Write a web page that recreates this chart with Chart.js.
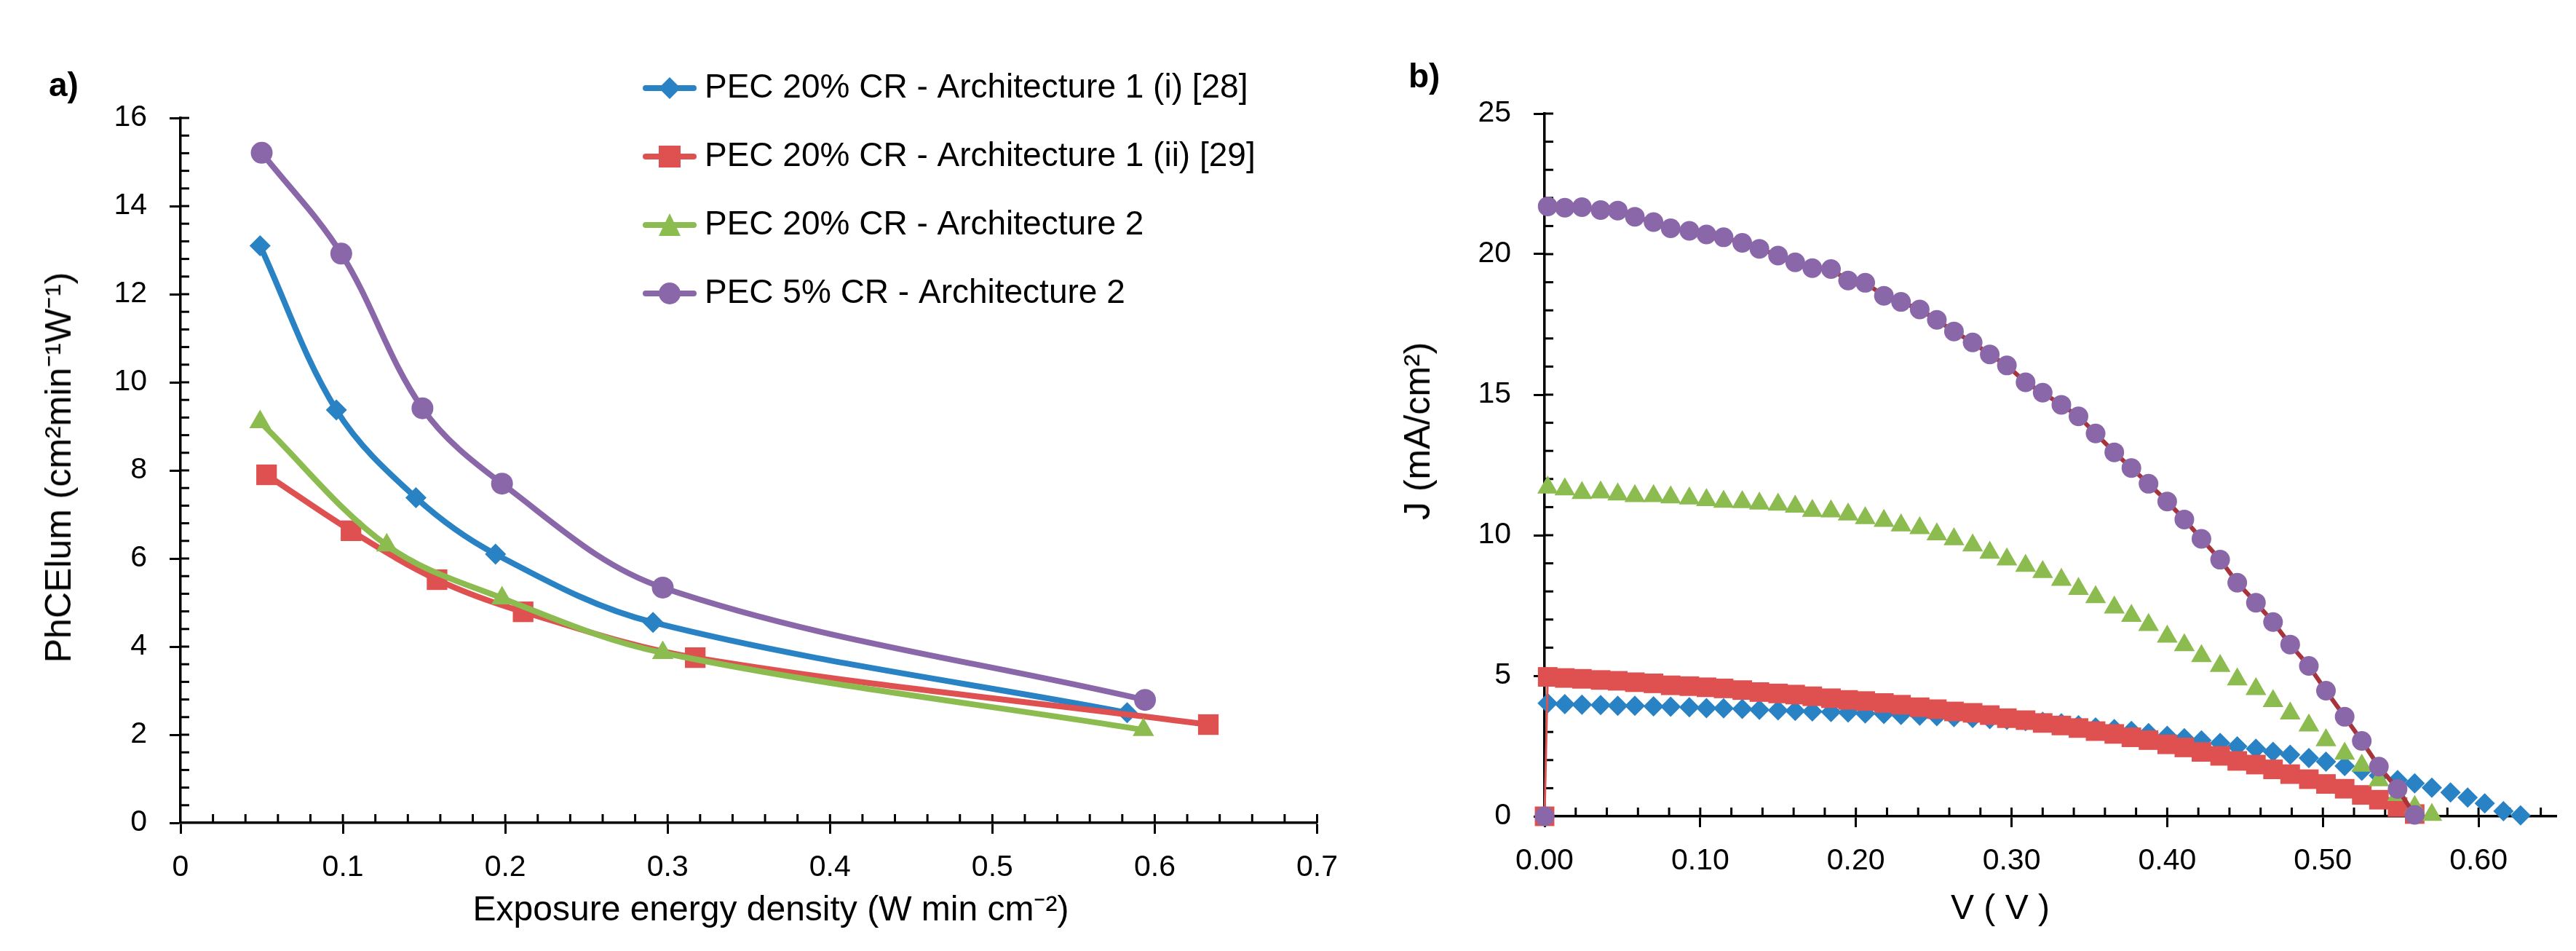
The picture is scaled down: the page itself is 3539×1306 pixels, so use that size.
<!DOCTYPE html>
<html>
<head>
<meta charset="utf-8">
<script src="https://cdn.jsdelivr.net/npm/chart.js@4.4.1/dist/chart.umd.min.js"></script>
<style>
  html, body { margin: 0; padding: 0; background: #fff; }
  body { width: 3539px; height: 1306px; position: relative; overflow: hidden;
         font-family: 'Liberation Sans', Arial, sans-serif; color: #000; }
  canvas { position: absolute; top: 0; }
  #chartA { left: 0; width: 1860px; height: 1306px; }
  #chartB { left: 1860px; width: 1679px; height: 1306px; }
  .lbl { position: absolute; white-space: nowrap; line-height: 1; }
  .panel { font-weight: bold; font-size: 46px; }
  .ttl { transform: translate(-50%, -50%); }
  .ttl.v { transform: translate(-50%, -50%) rotate(-90deg); }
</style>
</head>
<body>
<canvas id="chartA" width="1860" height="1306"></canvas>
<canvas id="chartB" width="1679" height="1306"></canvas>
<div class="lbl panel" style="left:67px; top:93px">a)</div>
<div class="lbl panel" style="left:1935px; top:81px">b)</div>
<div class="lbl ttl" style="left:1059px; top:1248px; font-size:48px">Exposure energy density (W min cm⁻²)</div>
<div class="lbl ttl v" style="left:80px; top:642px; font-size:50px">PhCElum (cm²min⁻¹W⁻¹)</div>
<div class="lbl ttl" style="left:2748px; top:1246px; font-size:48px">V ( V )</div>
<div class="lbl ttl v" style="left:1947px; top:592px; font-size:50px">J (mA/cm²)</div>
<script>
// ---- a) PhCElum vs exposure energy density ----
const seriesNames = [
  'PEC 20% CR - Architecture 1 (i) [28]',
  'PEC 20% CR - Architecture 1 (ii) [29]',
  'PEC 20% CR - Architecture 2',
  'PEC 5% CR - Architecture 2'
];
const energyArch1i  = [0.049, 0.096, 0.145, 0.194, 0.291, 0.583];
const phcArch1i     = [13.1, 9.37, 7.38, 6.1, 4.55, 2.5];
const energyArch1ii = [0.053, 0.105, 0.158, 0.211, 0.317, 0.633];
const phcArch1ii    = [7.9, 6.63, 5.52, 4.79, 3.75, 2.23];
const energyArch2   = [0.049, 0.127, 0.198, 0.297, 0.593];
const phcArch2      = [9.1, 6.3, 5.1, 3.86, 2.11];
const energyCr5     = [0.050, 0.099, 0.149, 0.198, 0.297, 0.594];
const phcCr5        = [15.21, 12.92, 9.41, 7.7, 5.34, 2.79];

// ---- b) J-V curves ----
const voltage = [
  0.002, 0.013, 0.024, 0.036, 0.047, 0.058, 0.070, 0.081, 0.093, 0.104,
  0.115, 0.127, 0.138, 0.150, 0.161, 0.172, 0.184, 0.195, 0.206, 0.218,
  0.229, 0.241, 0.252, 0.263, 0.275, 0.286, 0.297, 0.309, 0.320, 0.332,
  0.343, 0.354, 0.366, 0.377, 0.388, 0.400, 0.411, 0.422, 0.434, 0.445,
  0.457, 0.468, 0.479, 0.491, 0.502, 0.514, 0.525, 0.536, 0.548, 0.559,
  0.570, 0.582, 0.593, 0.604, 0.616, 0.627
];
const jArch1i = [
  4.02, 3.99, 3.97, 3.96, 3.93, 3.93, 3.91, 3.90, 3.88, 3.85,
  3.84, 3.82, 3.79, 3.77, 3.75, 3.73, 3.71, 3.69, 3.66, 3.64,
  3.61, 3.58, 3.56, 3.53, 3.50, 3.46, 3.43, 3.39, 3.36, 3.31,
  3.24, 3.16, 3.10, 3.04, 2.96, 2.86, 2.78, 2.70, 2.61, 2.49,
  2.40, 2.29, 2.19, 2.07, 1.94, 1.79, 1.62, 1.45, 1.29, 1.17,
  1.02, 0.85, 0.67, 0.46, 0.18, 0.03
];
const jArch1ii = [
  4.96, 4.92, 4.89, 4.85, 4.82, 4.77, 4.73, 4.66, 4.63, 4.59,
  4.55, 4.49, 4.42, 4.37, 4.33, 4.27, 4.20, 4.14, 4.10, 4.03,
  3.97, 3.88, 3.81, 3.73, 3.68, 3.60, 3.49, 3.42, 3.32, 3.23,
  3.14, 3.03, 2.93, 2.81, 2.71, 2.56, 2.45, 2.29, 2.15, 1.97,
  1.84, 1.67, 1.50, 1.32, 1.15, 0.98, 0.76, 0.59, 0.33, 0.08
];
const jArch2 = [
  11.70, 11.63, 11.50, 11.52, 11.45, 11.39, 11.39, 11.35, 11.31, 11.25,
  11.19, 11.18, 11.13, 11.09, 11.02, 10.87, 10.85, 10.74, 10.61, 10.51,
  10.35, 10.25, 10.03, 9.86, 9.64, 9.38, 9.14, 8.91, 8.69, 8.41,
  8.09, 7.80, 7.43, 7.13, 6.81, 6.39, 6.09, 5.70, 5.35, 4.87,
  4.53, 4.10, 3.66, 3.23, 2.71, 2.23, 1.80, 1.28, 0.76, 0.33,
  0.05
];
const jCr5 = [
  21.70, 21.65, 21.67, 21.57, 21.55, 21.33, 21.14, 20.92, 20.83, 20.70,
  20.60, 20.40, 20.19, 19.95, 19.71, 19.50, 19.47, 19.06, 18.98, 18.52,
  18.30, 18.03, 17.66, 17.25, 16.86, 16.43, 16.04, 15.44, 15.07, 14.64,
  14.23, 13.62, 12.95, 12.39, 11.83, 11.20, 10.56, 9.87, 9.13, 8.31,
  7.60, 6.91, 6.11, 5.35, 4.47, 3.54, 2.68, 1.77, 0.97, 0.05
];

const BLUE = '#2882C4', RED = '#DE5150', GREEN = '#8CBB4F', PURPLE = '#8A67A9', DARKRED = '#A8333A';
const FONT = "'Liberation Sans', Arial, sans-serif";
Chart.defaults.font.family = FONT;
Chart.defaults.color = '#000';

const pts = (xs, ys) => ys.map((y, i) => ({x: xs[i], y: y}));
const withOrigin = (xs, ys) => [{x: 0, y: 0}].concat(pts(xs, ys));
const isMajor = (v, major) => Math.abs(v / major - Math.round(v / major)) < 1e-6;

function axis(min, max, step, major, fmt, pad, fit) {
  return {
    type: 'linear', min: min, max: max,
    ticks: {
      stepSize: step, autoSkip: false, includeBounds: false, maxRotation: 0,
      font: {size: 41}, padding: pad,
      callback: v => isMajor(v, major) ? fmt(v) : ''
    },
    grid: {
      drawOnChartArea: false, drawTicks: true, tickLength: 15, tickWidth: 3,
      tickColor: c => (c.tick && isMajor(c.tick.value, major)) ? '#000' : 'rgba(0,0,0,0)'
    },
    border: {display: true, color: '#000', width: 3.5},
    afterFit: fit
  };
}

// short ticks on the inner side of both axes
const innerTicks = {
  id: 'innerTicks',
  beforeDatasetsDraw(chart) {
    const {ctx, chartArea} = chart;
    ctx.save();
    ctx.strokeStyle = '#000';
    ctx.lineWidth = 3;
    chart.scales.x.ticks.forEach(t => {
      if (t.value === 0) return;
      const p = chart.scales.x.getPixelForValue(t.value);
      ctx.beginPath(); ctx.moveTo(p, chartArea.bottom); ctx.lineTo(p, chartArea.bottom - 12); ctx.stroke();
    });
    chart.scales.y.ticks.forEach(t => {
      if (t.value === 0) return;
      const p = chart.scales.y.getPixelForValue(t.value);
      ctx.beginPath(); ctx.moveTo(chartArea.left, p); ctx.lineTo(chartArea.left + 12, p); ctx.stroke();
    });
    ctx.restore();
  }
};

// legend sample: line with the marker on it
function legendIcon(color, style) {
  const c = document.createElement('canvas');
  c.width = 76; c.height = 36;
  const g = c.getContext('2d');
  g.strokeStyle = color; g.lineWidth = 8; g.lineCap = 'round';
  g.beginPath(); g.moveTo(5, 18); g.lineTo(71, 18); g.stroke();
  g.fillStyle = color;
  g.beginPath();
  const x = 38, y = 18, r = 15;
  if (style === 'circle') g.arc(x, y, r, 0, Math.PI * 2);
  else if (style === 'rect') g.rect(x - r, y - r, 2 * r, 2 * r);
  else if (style === 'rectRot') { g.moveTo(x, y - r); g.lineTo(x + r, y); g.lineTo(x, y + r); g.lineTo(x - r, y); g.closePath(); }
  else { g.moveTo(x, y - 16); g.lineTo(x + 15, y + 15); g.lineTo(x - 15, y + 15); g.closePath(); }
  g.fill();
  return c;
}

const styles = ['rectRot', 'rect', 'triangle', 'circle'];
const colors = [BLUE, RED, GREEN, PURPLE];
const leftRadius = [14.5, 20, 17, 15];
const leftData = [
  pts(energyArch1i, phcArch1i), pts(energyArch1ii, phcArch1ii),
  pts(energyArch2, phcArch2), pts(energyCr5, phcCr5)
];
const icons = styles.map((s, i) => legendIcon(colors[i], s));

const moveLegend = {
  id: 'moveLegend',
  beforeDraw(chart) {
    chart.legend.left = 847;
    chart.legend.top = 50;
  }
};

new Chart(document.getElementById('chartA'), {
  type: 'scatter',
  data: {
    datasets: leftData.map((d, i) => ({
      label: seriesNames[i], data: d, showLine: true, tension: 0.35,
      borderColor: colors[i], borderWidth: 8, backgroundColor: colors[i],
      pointStyle: styles[i], pointRadius: leftRadius[i], pointBorderWidth: 0,
      pointBackgroundColor: colors[i], order: 4 - i, clip: false
    }))
  },
  options: {
    responsive: false, animation: false, devicePixelRatio: 1, events: [],
    layout: {padding: {top: 162, right: 39, bottom: 0, left: 0}},
    scales: {
      x: axis(0, 0.7, 0.02, 0.1, v => String(Math.round(v * 10) / 10), 22, s => { s.height = 176; }),
      y: axis(0, 16, 0.4, 2, v => String(Math.round(v)), 31, s => { s.width = 248; })
    },
    plugins: {
      tooltip: {enabled: false},
      legend: {
        position: 'chartArea', align: 'start',
        labels: {
          usePointStyle: true, pointStyleWidth: 50, padding: 48,
          font: {size: 46}, color: '#000',
          generateLabels: chart => chart.data.datasets.map((ds, i) => ({
            text: ds.label, pointStyle: icons[i], datasetIndex: i, hidden: false,
            fontColor: '#000', lineWidth: 0, strokeStyle: 'rgba(0,0,0,0)', fillStyle: 'rgba(0,0,0,0)'
          }))
        }
      }
    }
  },
  plugins: [innerTicks, moveLegend]
});

new Chart(document.getElementById('chartB'), {
  type: 'scatter',
  data: {
    datasets: [
      {data: pts(voltage, jArch1i), showLine: false, pointStyle: 'rectRot', pointRadius: 14,
       pointBackgroundColor: BLUE, pointBorderWidth: 0, order: 4, clip: false},
      {data: withOrigin(voltage, jArch1ii), showLine: true, tension: 0, borderColor: RED, borderWidth: 3,
       pointStyle: 'rect', pointRadius: 19, pointBackgroundColor: RED, pointBorderWidth: 0, order: 3, clip: false},
      {data: pts(voltage, jArch2), showLine: false, pointStyle: 'triangle', pointRadius: 16.5,
       pointBackgroundColor: GREEN, pointBorderWidth: 0, order: 2, clip: false},
      {data: withOrigin(voltage, jCr5), showLine: true, tension: 0, borderColor: DARKRED, borderWidth: 6,
       segment: {borderColor: c => c.p0DataIndex === 0 ? 'rgba(0,0,0,0)' : DARKRED},
       pointStyle: 'circle', pointRadius: 13.5, pointBackgroundColor: PURPLE, pointBorderWidth: 0, order: 1, clip: false}
    ]
  },
  options: {
    responsive: false, animation: false, devicePixelRatio: 1, events: [],
    layout: {padding: {top: 156, right: 27, bottom: 0, left: 0}},
    scales: {
      x: axis(0, 0.65, 0.02, 0.1, v => v.toFixed(2), 22, s => { s.height = 185; }),
      y: axis(0, 25, 1, 5, v => String(Math.round(v)), 31, s => { s.width = 262; })
    },
    plugins: {tooltip: {enabled: false}, legend: {display: false}}
  },
  plugins: [innerTicks]
});
</script>
</body>
</html>
